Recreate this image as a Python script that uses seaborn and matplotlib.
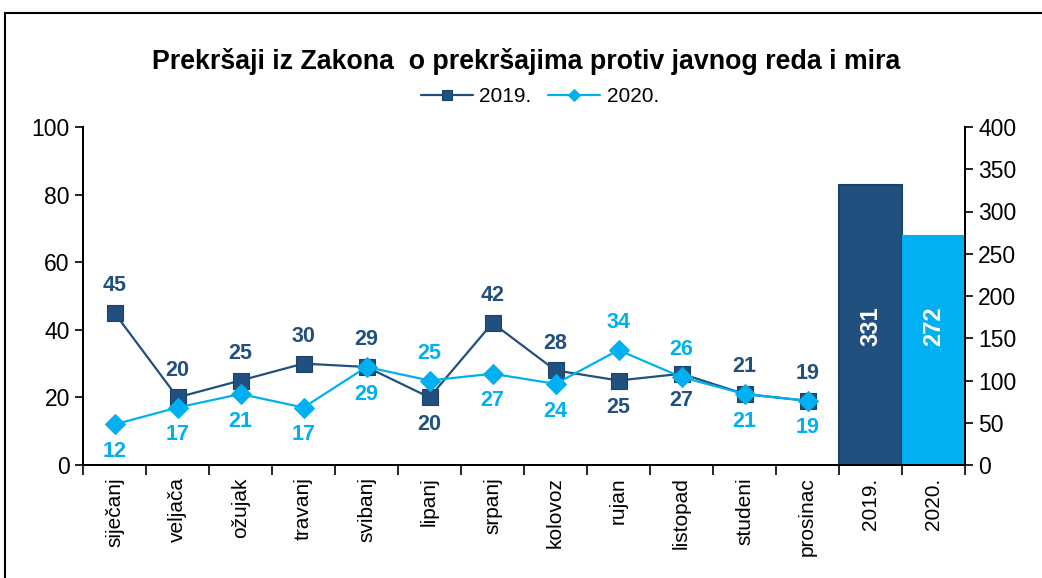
import numpy as np
import pandas as pd
import matplotlib
matplotlib.use("Agg")
import matplotlib.pyplot as plt
import seaborn as sns
from matplotlib.patches import Rectangle
from matplotlib.ticker import FixedLocator, MultipleLocator

sns.set_theme(style="white")
plt.rcParams['font.family'] = ['Liberation Sans', 'DejaVu Sans']
plt.rcParams['text.color'] = 'black'
plt.rcParams['xtick.color'] = 'black'
plt.rcParams['ytick.color'] = 'black'

title = "Prekršaji iz Zakona  o prekršajima protiv javnog reda i mira"
months = ["siječanj", "veljača", "ožujak", "travanj", "svibanj", "lipanj",
          "srpanj", "kolovoz", "rujan", "listopad", "studeni", "prosinac"]
years = ["2019.", "2020."]
v2019 = [45, 20, 25, 30, 29, 20, 42, 28, 25, 27, 21, 19]
v2020 = [12, 17, 21, 17, 29, 25, 27, 24, 34, 26, 21, 19]
totals = [331, 272]
# label placement: True = 2019 label above / 2020 label below
lab19_above = [True, True, True, True, True, False, True, True, False, False, True, True]

c19 = "#21507F"
c20 = "#00B0F0"

categories = months + years
pos_m = np.arange(len(months))
pos_y = np.arange(len(months), len(categories))

fig = plt.figure(figsize=(10.42, 5.78), dpi=100)
ax = fig.add_axes([83/1042, 1-465/578, (965-83)/1042, (465-127)/578])
ax2 = ax.twinx()

df = pd.DataFrame({"pos": np.concatenate([pos_m, pos_m]),
                   "val": v2019 + v2020,
                   "year": ["2019."]*12 + ["2020."]*12})

sns.lineplot(data=df[df.year == "2019."], x="pos", y="val", ax=ax, color=c19,
             marker="s", markersize=11, linewidth=1.6, markeredgecolor="#1B4269",
             markeredgewidth=0.8, label="2019.")
sns.lineplot(data=df[df.year == "2020."], x="pos", y="val", ax=ax, color=c20,
             marker="D", markersize=10, linewidth=1.6, markeredgecolor=c20,
             label="2020.")

bdf = pd.DataFrame({"pos": pos_y, "tot": totals, "year": years})
sns.barplot(data=bdf, x="pos", y="tot", hue="year", palette=[c19, c20],
            native_scale=True, width=1.0, ax=ax2, legend=False, dodge=False,
            saturation=1)
bars = ax2.patches
bars[0].set_edgecolor("#1B4269")
bars[0].set_linewidth(1.5)
bars[1].set_linewidth(0)

# bring lines above bars
ax.set_zorder(ax2.get_zorder() + 1)
ax.patch.set_visible(False)

ax.set_xlim(-0.5, len(categories) - 0.5)
ax.set_ylim(0, 100)
ax2.set_ylim(0, 400)
ax.yaxis.set_major_locator(MultipleLocator(20))
ax2.yaxis.set_major_locator(MultipleLocator(50))

ax.xaxis.set_major_locator(FixedLocator(np.arange(len(categories))))
ax.set_xticklabels(categories, rotation=90, fontsize=15)
ax.xaxis.set_minor_locator(FixedLocator(np.arange(len(categories) + 1) - 0.5))
ax.tick_params(axis="x", which="major", length=0, pad=9)
ax.tick_params(axis="x", which="minor", length=7, width=1.2, color="black", direction="out", bottom=True)
ax.tick_params(axis="y", length=6, width=1.2, color="black", labelsize=16.5, direction="out", left=True)
ax2.tick_params(axis="y", length=6, width=1.2, color="black", labelsize=16.5, direction="out", right=True)
ax.set_xlabel("")
ax.set_ylabel("")
ax2.set_ylabel("")
ax2.set_xlabel("")

for a in (ax, ax2):
    for s in ["left", "right", "bottom"]:
        a.spines[s].set_visible(True)
        a.spines[s].set_color("black")
        a.spines[s].set_linewidth(1.4)
    a.spines["top"].set_visible(False)

# data labels
for i in range(len(months)):
    a, b = v2019[i], v2020[i]
    if lab19_above[i]:
        off19, va19, off20, va20 = 12, "bottom", -12, "top"
    else:
        off19, va19, off20, va20 = -12, "top", 12, "bottom"
    ax.annotate(str(a), (pos_m[i], a), xytext=(0, off19), textcoords="offset points",
                ha="center", va=va19, fontsize=15.5, fontweight="bold", color=c19)
    ax.annotate(str(b), (pos_m[i], b), xytext=(0, off20), textcoords="offset points",
                ha="center", va=va20, fontsize=15.5, fontweight="bold", color=c20)

for p, t in zip(pos_y, totals):
    ax2.text(p, 0.41, str(t), transform=ax2.get_xaxis_transform(), rotation=90,
             ha="center", va="center", fontsize=17, fontweight="bold", color="white")

fig.text(0.505, 0.893, title, ha="center", va="center", fontsize=19.3, fontweight="bold")

leg = ax.legend(loc="center", bbox_to_anchor=(540/1042, 1-97/578),
                bbox_transform=fig.transFigure, ncol=2, frameon=False,
                fontsize=15, handlelength=2.5, columnspacing=0.8, handletextpad=0.3,
                markerscale=0.6)

fig.patches.append(Rectangle((5/1042, -0.1), 1.2, 1.1 - 13/578, transform=fig.transFigure,
                             fill=False, edgecolor="black", linewidth=1.5))

fig.savefig("out.png", dpi=100)
